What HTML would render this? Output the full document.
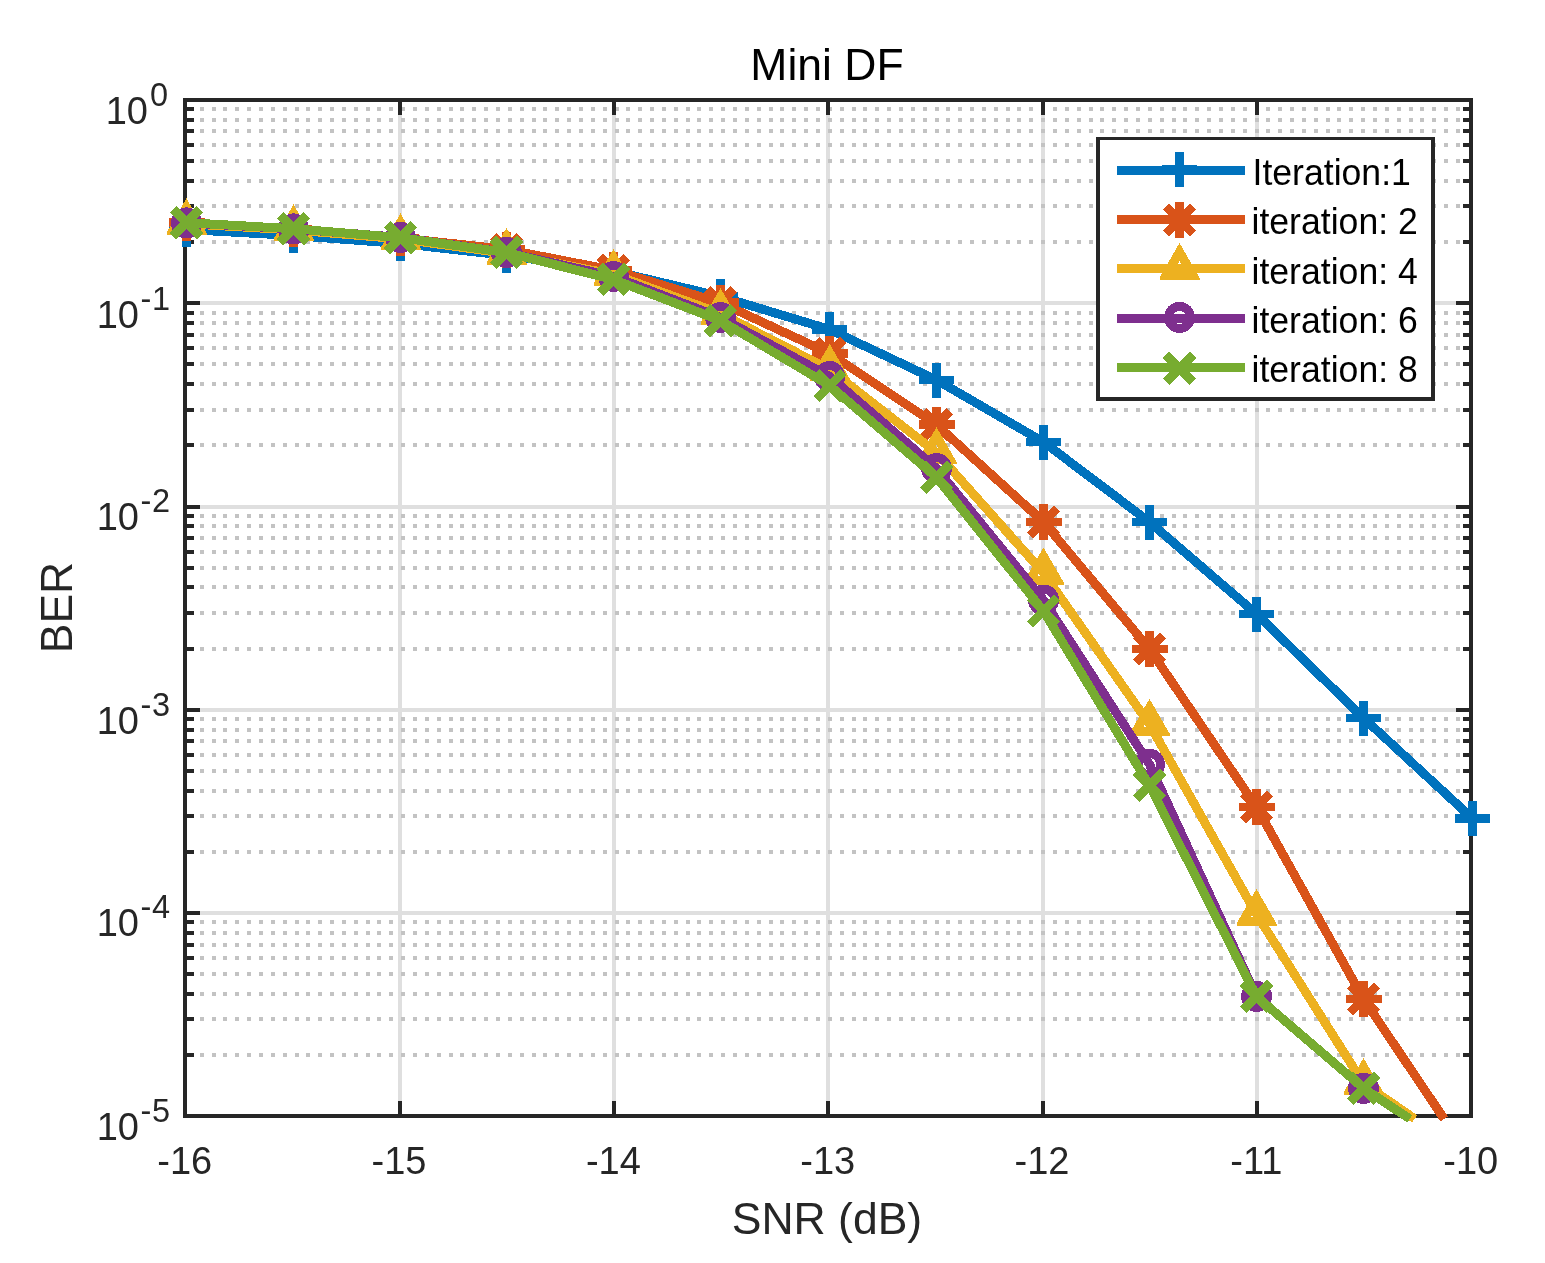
<!DOCTYPE html>
<html><head><meta charset="utf-8"><title>Mini DF</title>
<style>html,body{margin:0;padding:0;background:#fff}svg{display:block}text{font-family:"Liberation Sans",Arial,Helvetica,sans-serif}</style></head><body>
<svg width="1545" height="1263" viewBox="0 0 1545 1263">
<rect width="1545" height="1263" fill="#fff"/>
<defs><path id="dr" d="M200 0h4M212 0h4M223 0h4M235 0h4M247 0h4M259 0h4M271 0h4M283 0h4M295 0h4M306 0h4M318 0h4M330 0h4M342 0h4M354 0h4M366 0h4M377 0h4M389 0h4M401 0h4M413 0h4M425 0h4M437 0h4M449 0h4M460 0h4M472 0h4M484 0h4M496 0h4M508 0h4M520 0h4M532 0h4M543 0h4M555 0h4M567 0h4M579 0h4M591 0h4M603 0h4M615 0h4M626 0h4M638 0h4M650 0h4M662 0h4M674 0h4M686 0h4M697 0h4M709 0h4M721 0h4M733 0h4M745 0h4M757 0h4M769 0h4M780 0h4M792 0h4M804 0h4M816 0h4M828 0h4M840 0h4M852 0h4M863 0h4M875 0h4M887 0h4M899 0h4M911 0h4M923 0h4M935 0h4M946 0h4M958 0h4M970 0h4M982 0h4M994 0h4M1006 0h4M1017 0h4M1029 0h4M1041 0h4M1053 0h4M1065 0h4M1077 0h4M1089 0h4M1100 0h4M1112 0h4M1124 0h4M1136 0h4M1148 0h4M1160 0h4M1172 0h4M1183 0h4M1195 0h4M1207 0h4M1219 0h4M1231 0h4M1243 0h4M1255 0h4M1266 0h4M1278 0h4M1290 0h4M1302 0h4M1314 0h4M1326 0h4M1337 0h4M1349 0h4M1361 0h4M1373 0h4M1385 0h4M1397 0h4M1409 0h4M1420 0h4M1432 0h4M1444 0h4M1456 0h4" stroke="#c3c3c3" stroke-width="4" fill="none"/></defs>
<g shape-rendering="crispEdges">
<rect x="398" y="100" width="4" height="1016" fill="#dfdfdf"/>
<rect x="612" y="100" width="4" height="1016" fill="#dfdfdf"/>
<rect x="826" y="100" width="4" height="1016" fill="#dfdfdf"/>
<rect x="1041" y="100" width="4" height="1016" fill="#dfdfdf"/>
<rect x="1255" y="100" width="4" height="1016" fill="#dfdfdf"/>
<rect x="185" y="301" width="1286" height="4" fill="#dfdfdf"/>
<rect x="185" y="505" width="1286" height="4" fill="#dfdfdf"/>
<rect x="185" y="708" width="1286" height="4" fill="#dfdfdf"/>
<rect x="185" y="911" width="1286" height="4" fill="#dfdfdf"/>
<use href="#dr" y="242"/>
<use href="#dr" y="206"/>
<use href="#dr" y="181"/>
<use href="#dr" y="161"/>
<use href="#dr" y="145"/>
<use href="#dr" y="131"/>
<use href="#dr" y="120"/>
<use href="#dr" y="109"/>
<use href="#dr" y="445"/>
<use href="#dr" y="410"/>
<use href="#dr" y="384"/>
<use href="#dr" y="364"/>
<use href="#dr" y="348"/>
<use href="#dr" y="335"/>
<use href="#dr" y="323"/>
<use href="#dr" y="313"/>
<use href="#dr" y="649"/>
<use href="#dr" y="613"/>
<use href="#dr" y="587"/>
<use href="#dr" y="568"/>
<use href="#dr" y="552"/>
<use href="#dr" y="538"/>
<use href="#dr" y="526"/>
<use href="#dr" y="516"/>
<use href="#dr" y="852"/>
<use href="#dr" y="816"/>
<use href="#dr" y="791"/>
<use href="#dr" y="771"/>
<use href="#dr" y="755"/>
<use href="#dr" y="741"/>
<use href="#dr" y="730"/>
<use href="#dr" y="719"/>
<use href="#dr" y="1055"/>
<use href="#dr" y="1019"/>
<use href="#dr" y="994"/>
<use href="#dr" y="974"/>
<use href="#dr" y="958"/>
<use href="#dr" y="945"/>
<use href="#dr" y="933"/>
<use href="#dr" y="922"/>
</g>
<g shape-rendering="crispEdges" fill="#262626">
<rect x="183" y="98" width="4" height="1020"/>
<rect x="1469" y="98" width="4" height="1020"/>
<rect x="183" y="98" width="1290" height="4"/>
<rect x="183" y="1114" width="1290" height="4"/>
<rect x="398" y="1101" width="4" height="15"/>
<rect x="398" y="100" width="4" height="15"/>
<rect x="612" y="1101" width="4" height="15"/>
<rect x="612" y="100" width="4" height="15"/>
<rect x="826" y="1101" width="4" height="15"/>
<rect x="826" y="100" width="4" height="15"/>
<rect x="1041" y="1101" width="4" height="15"/>
<rect x="1041" y="100" width="4" height="15"/>
<rect x="1255" y="1101" width="4" height="15"/>
<rect x="1255" y="100" width="4" height="15"/>
<rect x="185" y="240" width="9" height="4"/>
<rect x="1463" y="240" width="8" height="4"/>
<rect x="185" y="204" width="9" height="4"/>
<rect x="1463" y="204" width="8" height="4"/>
<rect x="185" y="179" width="9" height="4"/>
<rect x="1463" y="179" width="8" height="4"/>
<rect x="185" y="159" width="9" height="4"/>
<rect x="1463" y="159" width="8" height="4"/>
<rect x="185" y="143" width="9" height="4"/>
<rect x="1463" y="143" width="8" height="4"/>
<rect x="185" y="129" width="9" height="4"/>
<rect x="1463" y="129" width="8" height="4"/>
<rect x="185" y="118" width="9" height="4"/>
<rect x="1463" y="118" width="8" height="4"/>
<rect x="185" y="107" width="9" height="4"/>
<rect x="1463" y="107" width="8" height="4"/>
<rect x="185" y="301" width="15" height="4"/>
<rect x="1456" y="301" width="15" height="4"/>
<rect x="185" y="443" width="9" height="4"/>
<rect x="1463" y="443" width="8" height="4"/>
<rect x="185" y="408" width="9" height="4"/>
<rect x="1463" y="408" width="8" height="4"/>
<rect x="185" y="382" width="9" height="4"/>
<rect x="1463" y="382" width="8" height="4"/>
<rect x="185" y="362" width="9" height="4"/>
<rect x="1463" y="362" width="8" height="4"/>
<rect x="185" y="346" width="9" height="4"/>
<rect x="1463" y="346" width="8" height="4"/>
<rect x="185" y="333" width="9" height="4"/>
<rect x="1463" y="333" width="8" height="4"/>
<rect x="185" y="321" width="9" height="4"/>
<rect x="1463" y="321" width="8" height="4"/>
<rect x="185" y="311" width="9" height="4"/>
<rect x="1463" y="311" width="8" height="4"/>
<rect x="185" y="505" width="15" height="4"/>
<rect x="1456" y="505" width="15" height="4"/>
<rect x="185" y="647" width="9" height="4"/>
<rect x="1463" y="647" width="8" height="4"/>
<rect x="185" y="611" width="9" height="4"/>
<rect x="1463" y="611" width="8" height="4"/>
<rect x="185" y="585" width="9" height="4"/>
<rect x="1463" y="585" width="8" height="4"/>
<rect x="185" y="566" width="9" height="4"/>
<rect x="1463" y="566" width="8" height="4"/>
<rect x="185" y="550" width="9" height="4"/>
<rect x="1463" y="550" width="8" height="4"/>
<rect x="185" y="536" width="9" height="4"/>
<rect x="1463" y="536" width="8" height="4"/>
<rect x="185" y="524" width="9" height="4"/>
<rect x="1463" y="524" width="8" height="4"/>
<rect x="185" y="514" width="9" height="4"/>
<rect x="1463" y="514" width="8" height="4"/>
<rect x="185" y="708" width="15" height="4"/>
<rect x="1456" y="708" width="15" height="4"/>
<rect x="185" y="850" width="9" height="4"/>
<rect x="1463" y="850" width="8" height="4"/>
<rect x="185" y="814" width="9" height="4"/>
<rect x="1463" y="814" width="8" height="4"/>
<rect x="185" y="789" width="9" height="4"/>
<rect x="1463" y="789" width="8" height="4"/>
<rect x="185" y="769" width="9" height="4"/>
<rect x="1463" y="769" width="8" height="4"/>
<rect x="185" y="753" width="9" height="4"/>
<rect x="1463" y="753" width="8" height="4"/>
<rect x="185" y="739" width="9" height="4"/>
<rect x="1463" y="739" width="8" height="4"/>
<rect x="185" y="728" width="9" height="4"/>
<rect x="1463" y="728" width="8" height="4"/>
<rect x="185" y="717" width="9" height="4"/>
<rect x="1463" y="717" width="8" height="4"/>
<rect x="185" y="911" width="15" height="4"/>
<rect x="1456" y="911" width="15" height="4"/>
<rect x="185" y="1053" width="9" height="4"/>
<rect x="1463" y="1053" width="8" height="4"/>
<rect x="185" y="1017" width="9" height="4"/>
<rect x="1463" y="1017" width="8" height="4"/>
<rect x="185" y="992" width="9" height="4"/>
<rect x="1463" y="992" width="8" height="4"/>
<rect x="185" y="972" width="9" height="4"/>
<rect x="1463" y="972" width="8" height="4"/>
<rect x="185" y="956" width="9" height="4"/>
<rect x="1463" y="956" width="8" height="4"/>
<rect x="185" y="943" width="9" height="4"/>
<rect x="1463" y="943" width="8" height="4"/>
<rect x="185" y="931" width="9" height="4"/>
<rect x="1463" y="931" width="8" height="4"/>
<rect x="185" y="920" width="9" height="4"/>
<rect x="1463" y="920" width="8" height="4"/>
</g>
<g shape-rendering="crispEdges" stroke-linecap="butt" stroke-linejoin="miter">
<path d="M186.5 229.5L293.5 235.5L400.5 243.5L506.5 255.4L613.5 271L720.5 296.5L829.7 329.5L936.5 380L1043.5 442L1149.5 522L1256.5 614L1363.5 718L1472.5 818.5" stroke="#0072BD" stroke-width="9" fill="none"/>
<path d="M169 229.5h35M186.5 212v35" stroke="#0072BD" stroke-width="8.8" fill="none"/>
<path d="M276 235.5h35M293.5 218v35" stroke="#0072BD" stroke-width="8.8" fill="none"/>
<path d="M383 243.5h35M400.5 226v35" stroke="#0072BD" stroke-width="8.8" fill="none"/>
<path d="M489 255.4h35M506.5 237.9v35" stroke="#0072BD" stroke-width="8.8" fill="none"/>
<path d="M596 271h35M613.5 253.5v35" stroke="#0072BD" stroke-width="8.8" fill="none"/>
<path d="M703 296.5h35M720.5 279v35" stroke="#0072BD" stroke-width="8.8" fill="none"/>
<path d="M812.2 329.5h35M829.7 312v35" stroke="#0072BD" stroke-width="8.8" fill="none"/>
<path d="M919 380h35M936.5 362.5v35" stroke="#0072BD" stroke-width="8.8" fill="none"/>
<path d="M1026 442h35M1043.5 424.5v35" stroke="#0072BD" stroke-width="8.8" fill="none"/>
<path d="M1132 522h35M1149.5 504.5v35" stroke="#0072BD" stroke-width="8.8" fill="none"/>
<path d="M1239 614h35M1256.5 596.5v35" stroke="#0072BD" stroke-width="8.8" fill="none"/>
<path d="M1346 718h35M1363.5 700.5v35" stroke="#0072BD" stroke-width="8.8" fill="none"/>
<path d="M1455 818.5h35M1472.5 801v35" stroke="#0072BD" stroke-width="8.8" fill="none"/>
<path d="M186.5 222.7L293.5 228.9L400.5 237.9L506.5 249.5L613.5 270.3L720.5 302.7L829.7 353.5L936.5 424.7L1043.5 522L1149.5 649L1256.5 807L1363.5 999L1444.11 1118.8" stroke="#D95319" stroke-width="9" fill="none"/>
<path d="M168.5 222.7h36M186.5 204.7v36M173.1 209.3l26.8 26.8M173.1 236.1l26.8 -26.8" stroke="#D95319" stroke-width="8.8" fill="none"/>
<path d="M275.5 228.9h36M293.5 210.9v36M280.1 215.5l26.8 26.8M280.1 242.3l26.8 -26.8" stroke="#D95319" stroke-width="8.8" fill="none"/>
<path d="M382.5 237.9h36M400.5 219.9v36M387.1 224.5l26.8 26.8M387.1 251.3l26.8 -26.8" stroke="#D95319" stroke-width="8.8" fill="none"/>
<path d="M488.5 249.5h36M506.5 231.5v36M493.1 236.1l26.8 26.8M493.1 262.9l26.8 -26.8" stroke="#D95319" stroke-width="8.8" fill="none"/>
<path d="M595.5 270.3h36M613.5 252.3v36M600.1 256.9l26.8 26.8M600.1 283.7l26.8 -26.8" stroke="#D95319" stroke-width="8.8" fill="none"/>
<path d="M702.5 302.7h36M720.5 284.7v36M707.1 289.3l26.8 26.8M707.1 316.1l26.8 -26.8" stroke="#D95319" stroke-width="8.8" fill="none"/>
<path d="M811.7 353.5h36M829.7 335.5v36M816.3 340.1l26.8 26.8M816.3 366.9l26.8 -26.8" stroke="#D95319" stroke-width="8.8" fill="none"/>
<path d="M918.5 424.7h36M936.5 406.7v36M923.1 411.3l26.8 26.8M923.1 438.1l26.8 -26.8" stroke="#D95319" stroke-width="8.8" fill="none"/>
<path d="M1025.5 522h36M1043.5 504v36M1030.1 508.6l26.8 26.8M1030.1 535.4l26.8 -26.8" stroke="#D95319" stroke-width="8.8" fill="none"/>
<path d="M1131.5 649h36M1149.5 631v36M1136.1 635.6l26.8 26.8M1136.1 662.4l26.8 -26.8" stroke="#D95319" stroke-width="8.8" fill="none"/>
<path d="M1238.5 807h36M1256.5 789v36M1243.1 793.6l26.8 26.8M1243.1 820.4l26.8 -26.8" stroke="#D95319" stroke-width="8.8" fill="none"/>
<path d="M1345.5 999h36M1363.5 981v36M1350.1 985.6l26.8 26.8M1350.1 1012.4l26.8 -26.8" stroke="#D95319" stroke-width="8.8" fill="none"/>
<path d="M186.5 223.8L293.5 229.9L400.5 238.9L506.5 253.5L613.5 274.4L720.5 313.6L829.7 369.5L936.5 452.6L1043.5 573L1149.5 724.3L1256.5 914.4L1363.5 1083.5L1414.67 1118.8" stroke="#EDB120" stroke-width="9" fill="none"/>
<path transform="translate(186.5 223.8)" d="M0 -25.5L20 9.14V11.5H-20V9.14ZM0 -7.5L5.77 2.5H-5.77Z" fill="#EDB120" fill-rule="evenodd"/>
<path transform="translate(293.5 229.9)" d="M0 -25.5L20 9.14V11.5H-20V9.14ZM0 -7.5L5.77 2.5H-5.77Z" fill="#EDB120" fill-rule="evenodd"/>
<path transform="translate(400.5 238.9)" d="M0 -25.5L20 9.14V11.5H-20V9.14ZM0 -7.5L5.77 2.5H-5.77Z" fill="#EDB120" fill-rule="evenodd"/>
<path transform="translate(506.5 253.5)" d="M0 -25.5L20 9.14V11.5H-20V9.14ZM0 -7.5L5.77 2.5H-5.77Z" fill="#EDB120" fill-rule="evenodd"/>
<path transform="translate(613.5 274.4)" d="M0 -25.5L20 9.14V11.5H-20V9.14ZM0 -7.5L5.77 2.5H-5.77Z" fill="#EDB120" fill-rule="evenodd"/>
<path transform="translate(720.5 313.6)" d="M0 -25.5L20 9.14V11.5H-20V9.14ZM0 -7.5L5.77 2.5H-5.77Z" fill="#EDB120" fill-rule="evenodd"/>
<path transform="translate(829.7 369.5)" d="M0 -25.5L20 9.14V11.5H-20V9.14ZM0 -7.5L5.77 2.5H-5.77Z" fill="#EDB120" fill-rule="evenodd"/>
<path transform="translate(936.5 452.6)" d="M0 -25.5L20 9.14V11.5H-20V9.14ZM0 -7.5L5.77 2.5H-5.77Z" fill="#EDB120" fill-rule="evenodd"/>
<path transform="translate(1043.5 573)" d="M0 -25.5L20 9.14V11.5H-20V9.14ZM0 -7.5L5.77 2.5H-5.77Z" fill="#EDB120" fill-rule="evenodd"/>
<path transform="translate(1149.5 724.3)" d="M0 -25.5L20 9.14V11.5H-20V9.14ZM0 -7.5L5.77 2.5H-5.77Z" fill="#EDB120" fill-rule="evenodd"/>
<path transform="translate(1256.5 914.4)" d="M0 -25.5L20 9.14V11.5H-20V9.14ZM0 -7.5L5.77 2.5H-5.77Z" fill="#EDB120" fill-rule="evenodd"/>
<path transform="translate(1363.5 1083.5)" d="M0 -25.5L20 9.14V11.5H-20V9.14ZM0 -7.5L5.77 2.5H-5.77Z" fill="#EDB120" fill-rule="evenodd"/>
<path d="M186.5 222.9L293.5 228.9L400.5 237.4L506.5 252.4L613.5 276.5L720.5 317.5L829.7 376.5L936.5 468.5L1043.5 600L1149.5 764.3L1256.5 996.4L1363.5 1088.3L1409.67 1118.8" stroke="#7E2F8E" stroke-width="9" fill="none"/>
<circle cx="186.5" cy="222.9" r="11" stroke="#7E2F8E" stroke-width="9" fill="none"/>
<circle cx="293.5" cy="228.9" r="11" stroke="#7E2F8E" stroke-width="9" fill="none"/>
<circle cx="400.5" cy="237.4" r="11" stroke="#7E2F8E" stroke-width="9" fill="none"/>
<circle cx="506.5" cy="252.4" r="11" stroke="#7E2F8E" stroke-width="9" fill="none"/>
<circle cx="613.5" cy="276.5" r="11" stroke="#7E2F8E" stroke-width="9" fill="none"/>
<circle cx="720.5" cy="317.5" r="11" stroke="#7E2F8E" stroke-width="9" fill="none"/>
<circle cx="829.7" cy="376.5" r="11" stroke="#7E2F8E" stroke-width="9" fill="none"/>
<circle cx="936.5" cy="468.5" r="11" stroke="#7E2F8E" stroke-width="9" fill="none"/>
<circle cx="1043.5" cy="600" r="11" stroke="#7E2F8E" stroke-width="9" fill="none"/>
<circle cx="1149.5" cy="764.3" r="11" stroke="#7E2F8E" stroke-width="9" fill="none"/>
<circle cx="1256.5" cy="996.4" r="11" stroke="#7E2F8E" stroke-width="9" fill="none"/>
<circle cx="1363.5" cy="1088.3" r="11" stroke="#7E2F8E" stroke-width="9" fill="none"/>
<path d="M186.5 222.7L293.5 228.7L400.5 237.7L506.5 252.5L613.5 279.5L720.5 320.6L829.7 385.6L936.5 477.4L1043.5 611L1149.5 785.5L1256.5 996.4L1363.5 1088.3L1409.67 1118.8" stroke="#77AC30" stroke-width="9" fill="none"/>
<path d="M173 209.2l27 27M173 236.2l27 -27" stroke="#77AC30" stroke-width="8.8" fill="none"/>
<path d="M280 215.2l27 27M280 242.2l27 -27" stroke="#77AC30" stroke-width="8.8" fill="none"/>
<path d="M387 224.2l27 27M387 251.2l27 -27" stroke="#77AC30" stroke-width="8.8" fill="none"/>
<path d="M493 239l27 27M493 266l27 -27" stroke="#77AC30" stroke-width="8.8" fill="none"/>
<path d="M600 266l27 27M600 293l27 -27" stroke="#77AC30" stroke-width="8.8" fill="none"/>
<path d="M707 307.1l27 27M707 334.1l27 -27" stroke="#77AC30" stroke-width="8.8" fill="none"/>
<path d="M816.2 372.1l27 27M816.2 399.1l27 -27" stroke="#77AC30" stroke-width="8.8" fill="none"/>
<path d="M923 463.9l27 27M923 490.9l27 -27" stroke="#77AC30" stroke-width="8.8" fill="none"/>
<path d="M1030 597.5l27 27M1030 624.5l27 -27" stroke="#77AC30" stroke-width="8.8" fill="none"/>
<path d="M1136 772l27 27M1136 799l27 -27" stroke="#77AC30" stroke-width="8.8" fill="none"/>
<path d="M1243 982.9l27 27M1243 1009.9l27 -27" stroke="#77AC30" stroke-width="8.8" fill="none"/>
<path d="M1350 1074.8l27 27M1350 1101.8l27 -27" stroke="#77AC30" stroke-width="8.8" fill="none"/>
</g>
<g shape-rendering="crispEdges">
<rect x="1096" y="137" width="339" height="264" fill="#262626"/>
<rect x="1100" y="140" width="331" height="257" fill="#fff"/>
<path d="M1117 170.5H1245" stroke="#0072BD" stroke-width="9" fill="none"/>
<path d="M1162 169.5h35M1179.5 152v35" stroke="#0072BD" stroke-width="8.8" fill="none"/>
<path d="M1117 219.5H1245" stroke="#D95319" stroke-width="9" fill="none"/>
<path d="M1161.5 220h36M1179.5 202v36M1166.1 206.6l26.8 26.8M1166.1 233.4l26.8 -26.8" stroke="#D95319" stroke-width="8.8" fill="none"/>
<path d="M1117 268.5H1245" stroke="#EDB120" stroke-width="9" fill="none"/>
<path transform="translate(1179.5 268.5)" d="M0 -25.5L20 9.14V11.5H-20V9.14ZM0 -7.5L5.77 2.5H-5.77Z" fill="#EDB120" fill-rule="evenodd"/>
<path d="M1117 318.5H1245" stroke="#7E2F8E" stroke-width="9" fill="none"/>
<circle cx="1179.5" cy="317.4" r="11" stroke="#7E2F8E" stroke-width="9" fill="none"/>
<path d="M1117 367.5H1245" stroke="#77AC30" stroke-width="9" fill="none"/>
<path d="M1166 354.9l27 27M1166 381.9l27 -27" stroke="#77AC30" stroke-width="8.8" fill="none"/>
</g>
<text transform="translate(1252.5 184.9) scale(0.95 1)" font-size="37.5" fill="#000">Iteration:1</text>
<text transform="translate(1251.5 233.9) scale(0.95 1)" font-size="37.5" fill="#000">iteration: 2</text>
<text transform="translate(1251.5 283.7) scale(0.95 1)" font-size="37.5" fill="#000">iteration: 4</text>
<text transform="translate(1251.5 333.1) scale(0.95 1)" font-size="37.5" fill="#000">iteration: 6</text>
<text transform="translate(1251.5 382) scale(0.95 1)" font-size="37.5" fill="#000">iteration: 8</text>
<text x="827" y="80" font-size="44.5" text-anchor="middle" fill="#000">Mini DF</text>
<text x="827" y="1234" font-size="44.5" text-anchor="middle" fill="#262626">SNR (dB)</text>
<text transform="translate(72 607.5) rotate(-90)" font-size="44.5" text-anchor="middle" fill="#262626">BER</text>
<text x="184.7" y="1174" font-size="38" text-anchor="middle" fill="#262626">-16</text>
<text x="399.03" y="1174" font-size="38" text-anchor="middle" fill="#262626">-15</text>
<text x="613.37" y="1174" font-size="38" text-anchor="middle" fill="#262626">-14</text>
<text x="827.7" y="1174" font-size="38" text-anchor="middle" fill="#262626">-13</text>
<text x="1042.03" y="1174" font-size="38" text-anchor="middle" fill="#262626">-12</text>
<text x="1256.37" y="1174" font-size="38" text-anchor="middle" fill="#262626">-11</text>
<text x="1470.7" y="1174" font-size="38" text-anchor="middle" fill="#262626">-10</text>
<text x="149.9" y="106" font-size="32.5" letter-spacing="0.7" fill="#262626">0</text>
<text x="148" y="124" font-size="38" text-anchor="end" fill="#262626">10</text>
<text x="140.5" y="309.8" font-size="32.5" letter-spacing="0.7" fill="#262626">-1</text>
<text x="139" y="327.8" font-size="38" text-anchor="end" fill="#262626">10</text>
<text x="140.5" y="511.8" font-size="32.5" letter-spacing="0.7" fill="#262626">-2</text>
<text x="139" y="529.8" font-size="38" text-anchor="end" fill="#262626">10</text>
<text x="140.5" y="715.8" font-size="32.5" letter-spacing="0.7" fill="#262626">-3</text>
<text x="139" y="733.8" font-size="38" text-anchor="end" fill="#262626">10</text>
<text x="140.5" y="917.9" font-size="32.5" letter-spacing="0.7" fill="#262626">-4</text>
<text x="139" y="935.9" font-size="38" text-anchor="end" fill="#262626">10</text>
<text x="140.5" y="1121.8" font-size="32.5" letter-spacing="0.7" fill="#262626">-5</text>
<text x="139" y="1139.8" font-size="38" text-anchor="end" fill="#262626">10</text>
</svg></body></html>
